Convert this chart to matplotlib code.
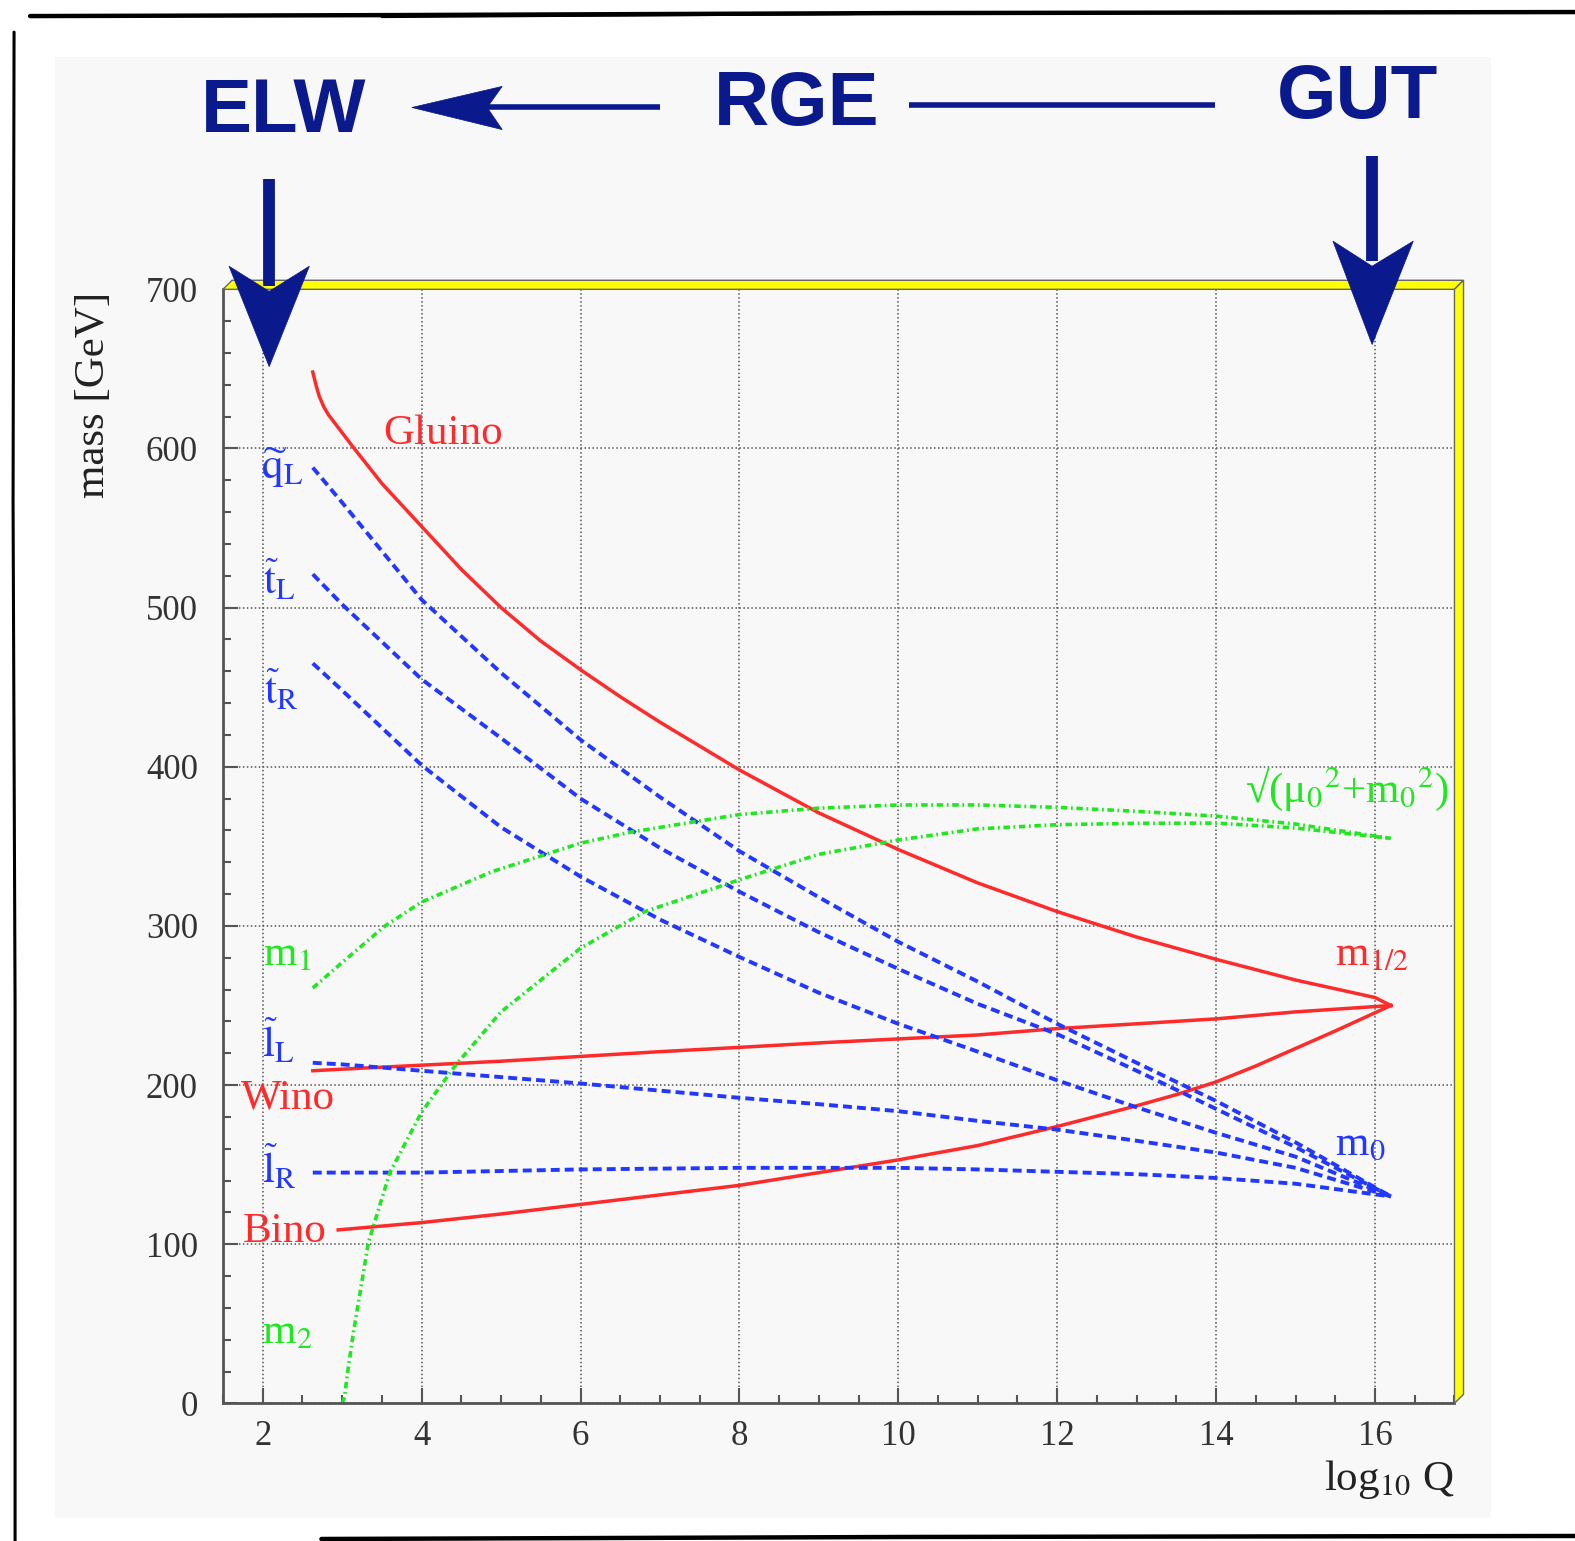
import matplotlib
matplotlib.use("Agg")
import matplotlib.pyplot as plt
from matplotlib.patches import Polygon, Rectangle
from matplotlib.lines import Line2D
from matplotlib.ticker import MultipleLocator

plt.rcParams['font.family'] = ['Liberation Serif', 'DejaVu Serif']
plt.rcParams['mathtext.fontset'] = 'stix'

# running masses vs log10(Q), mSUGRA point
gluino_x = [2.63, 2.67, 2.71, 2.77, 2.83, 3.12, 3.5, 4.0, 4.5, 5.0, 5.5, 6.0, 6.5, 7.0, 7.5,
            8.0, 9.0, 10.0, 11.0, 12.0, 13.0, 14.0, 15.0, 16.0, 16.2]
gluino_y = [648, 640, 633, 626, 621, 602, 578, 551, 524, 500, 479, 461, 444, 428, 413,
            398, 371, 348, 327, 309, 293, 279, 266, 255, 250]

q = [2.63, 3, 4, 5, 6, 7, 8, 9, 10, 11, 12, 13, 14, 15, 16.2]
wino_y = [209, 210, 212.5, 215, 218, 221, 223.7, 226.5, 229, 231.5, 235.5, 238.5, 241.6, 246, 250]
qL_y = [588, 566, 505, 459, 417, 381, 347, 318, 290, 265, 238.5, 214, 190, 164, 130]
tL_y = [521, 502, 455, 418, 380, 349, 321.5, 296, 273, 251, 232, 209, 185, 161, 130]
tR_y = [465, 448, 401, 362, 331, 304, 280.5, 258, 238.5, 221, 203, 186, 170, 155, 130]
lL_y = [214, 213, 209, 205, 201, 196.5, 192, 188, 183.6, 177.5, 172, 165, 157.6, 148, 130]
lR_y = [145, 145, 145, 146, 147, 147.5, 148, 148, 148, 147, 145.5, 144, 141.6, 138, 130]

bino_x = [2.95, 4, 5, 6, 7, 8, 9, 10, 11, 12, 13, 13.5, 14, 14.5, 15, 15.5, 16.2]
bino_y = [109, 113.6, 119, 125, 131, 137, 145, 153, 162, 174, 187, 194, 202, 212, 223, 234, 250]

m1_x = [2.63, 3.0, 3.54, 4.0, 4.88, 6.0, 6.64, 8.0, 9.0, 10.0, 11.0, 12.0, 13.0, 14.0, 15.0, 16.2]
m1_y = [261, 277, 300, 315, 334, 352, 359, 370, 374, 376, 376, 374.5, 372, 369, 364, 355]

m2_x = [3.0, 3.03, 3.07, 3.14, 3.33, 3.6, 4.0, 4.42, 5.0, 6.0, 6.81, 8.0, 9.0, 10.0, 11.0,
        12.0, 13.0, 14.0, 15.0, 16.2]
m2_y = [0, 4, 20, 44, 101, 145, 183, 212, 246, 286, 309, 329, 345, 354, 361,
        363.6, 364.5, 364.6, 361.5, 355]

RED = '#ff2a2a'
BLUE = '#2237ff'
GREEN = '#22e622'
NAVY = '#0a198c'
PANEL = '#f8f8f8'

W, H = 1568.0, 1534.0


def fp(x, y):
    # pixel position (from top-left) -> figure fraction
    return (x / W, 1 - y / H)


fig = plt.figure(figsize=(15.75, 15.41), dpi=100)
fig.patches.append(Rectangle(fp(55, 1511), (1484 - 55) / W, (1511 - 57) / H,
                             transform=fig.transFigure, facecolor=PANEL,
                             edgecolor='none', zorder=-5))

ax = fig.add_axes([222 / W, 1 - 1397 / H, (1448 - 222) / W, (1397 - 288) / H])
ax.set_facecolor(PANEL)
ax.set_xlim(1.5, 17)
ax.set_ylim(0, 700)

ax.xaxis.set_major_locator(MultipleLocator(2))
ax.xaxis.set_minor_locator(MultipleLocator(0.5))
ax.yaxis.set_major_locator(MultipleLocator(100))
ax.yaxis.set_minor_locator(MultipleLocator(20))
ax.set_xticks(range(2, 17, 2))
ax.tick_params(which='both', direction='in', color='#555555', width=1.5,
               top=False, right=False)
ax.tick_params(which='major', length=11)
ax.tick_params(which='minor', length=5.5)
ax.tick_params(axis='y', which='major', labelsize=25, pad=18, labelcolor='#333333')
ax.tick_params(axis='x', which='major', labelsize=25, pad=12, labelcolor='#333333')
ax.yaxis.set_major_formatter(plt.FuncFormatter(lambda v, p: '%d' % v))
ax.xaxis.set_major_formatter(plt.FuncFormatter(lambda v, p: '%d' % v))

for s in ['top', 'right']:
    ax.spines[s].set_visible(False)
for s in ['left', 'bottom']:
    ax.spines[s].set_color('#555555')
    ax.spines[s].set_linewidth(2)

ax.grid(True, which='major', linestyle=(0, (1, 1.6)), color='#555555', lw=1.1)
ax.set_axisbelow(True)

# gauginos
ax.plot(gluino_x, gluino_y, color=RED, lw=2.5)
ax.plot(q, wino_y, color=RED, lw=2.5)
ax.plot(bino_x, bino_y, color=RED, lw=2.5)

# sfermions
for ys in [qL_y, tL_y, tR_y, lL_y, lR_y]:
    ax.plot(q, ys, color=BLUE, lw=2.8, dashes=(2.3, 1.3))

# Higgs mass parameters
ax.plot(m1_x, m1_y, color=GREEN, lw=2.6, dashes=(1.8, 1.0, 0.5, 1.0))
ax.plot(m2_x, m2_y, color=GREEN, lw=2.6, dashes=(1.8, 1.0, 0.5, 1.0))

fs = 31
ax.text(4.27, 609, 'Gluino', color=RED, fontsize=fs, ha='center', va='center')
ax.text(2.32, 192, 'Wino', color=RED, fontsize=fs, ha='center', va='center')
ax.text(2.28, 108, 'Bino', color=RED, fontsize=fs, ha='center', va='center')
ax.text(15.96, 282, r'm$_{1/2}$', color=RED, fontsize=fs, ha='center', va='center')
ax.text(2.25, 588, r'$\widetilde{\mathrm{q}}_{\mathrm{L}}$', color=BLUE, fontsize=fs, ha='center', va='center')
ax.text(2.21, 517, r'$\widetilde{\mathrm{t}}_{\mathrm{L}}$', color=BLUE, fontsize=fs, ha='center', va='center')
ax.text(2.23, 448, r'$\widetilde{\mathrm{t}}_{\mathrm{R}}$', color=BLUE, fontsize=fs, ha='center', va='center')
ax.text(2.20, 227, r'$\widetilde{\mathrm{l}}_{\mathrm{L}}$', color=BLUE, fontsize=fs, ha='center', va='center')
ax.text(2.21, 148, r'$\widetilde{\mathrm{l}}_{\mathrm{R}}$', color=BLUE, fontsize=fs, ha='center', va='center')
ax.text(15.81, 163, r'm$_0$', color=BLUE, fontsize=fs, ha='center', va='center')
ax.text(2.30, 282, r'm$_1$', color=GREEN, fontsize=fs, ha='center', va='center')
ax.text(2.31, 44, r'm$_2$', color=GREEN, fontsize=fs, ha='center', va='center')
ax.text(15.65, 386, '√(μ$_0$$^2$+m$_0$$^2$)', color=GREEN, fontsize=fs, ha='center', va='center')

# yellow bevelled frame on top and right
dx = 9 / (1448 - 222)
dy = 9 / (1397 - 288)
frame_top = Polygon([(0, 1), (dx, 1 + dy), (1 + dx, 1 + dy), (1, 1)], closed=True,
                    transform=ax.transAxes, clip_on=False, facecolor='#ffff00',
                    edgecolor='#666666', lw=1, zorder=10)
frame_right = Polygon([(1, 1), (1 + dx, 1 + dy), (1 + dx, dy), (1, 0)], closed=True,
                      transform=ax.transAxes, clip_on=False, facecolor='#ffff00',
                      edgecolor='#666666', lw=1, zorder=10)
ax.add_patch(frame_top)
ax.add_patch(frame_right)

fig.text(0.9235, 1 - 1473 / H, r'log$_{10}$ Q', fontsize=31, ha='right', va='center', color='#222222')
fig.text(93 / W, 1 - 290 / H, 'mass [GeV]', fontsize=31, rotation=90, ha='center', va='top',
         color='#222222')

# ELW <- RGE - GUT header
bold = dict(family='Liberation Sans', weight='bold', fontsize=55, color=NAVY,
            ha='center', va='center')
fig.text(*fp(282, 112), 'ELW', **bold)
fig.text(*fp(793, 105), 'RGE', **bold)
fig.text(*fp(1352, 98), 'GUT', **bold)


def add_line(p0, p1, lw):
    fig.add_artist(Line2D([fp(*p0)[0], fp(*p1)[0]], [fp(*p0)[1], fp(*p1)[1]],
                          transform=fig.transFigure, color=NAVY, lw=lw,
                          solid_capstyle='butt', zorder=20))


def add_head(pts):
    fig.add_artist(Polygon([fp(*p) for p in pts], closed=True, transform=fig.transFigure,
                           facecolor=NAVY, edgecolor=NAVY, lw=0.5, zorder=20))


add_line((480, 107), (657, 107), 4)
add_head([(410, 107), (500, 86), (485, 107), (500, 129)])
add_line((905, 105), (1210, 105), 4)
add_line((268, 178), (268, 285), 8.5)
add_head([(268, 365), (228, 265), (268, 290), (308, 265)])
add_line((1366, 155), (1366, 260), 8.5)
add_head([(1366, 343), (1327, 240), (1366, 265), (1407, 240)])

# sketchy outer border
def sketch(pts, lw):
    xs = [fp(*p)[0] for p in pts]
    ys = [fp(*p)[1] for p in pts]
    fig.add_artist(Line2D(xs, ys, transform=fig.transFigure, color='black', lw=lw,
                          solid_capstyle='round', zorder=30))


sketch([(30, 16), (400, 15), (900, 13), (1568, 12)], 3.2)
sketch([(380, 17), (850, 14)], 1.5)
sketch([(14, 32), (13, 500), (15, 1000), (15, 1534)], 2.2)
sketch([(320, 1532), (900, 1530), (1568, 1529)], 3.2)

fig.savefig('out.png', dpi=100, facecolor='white')
